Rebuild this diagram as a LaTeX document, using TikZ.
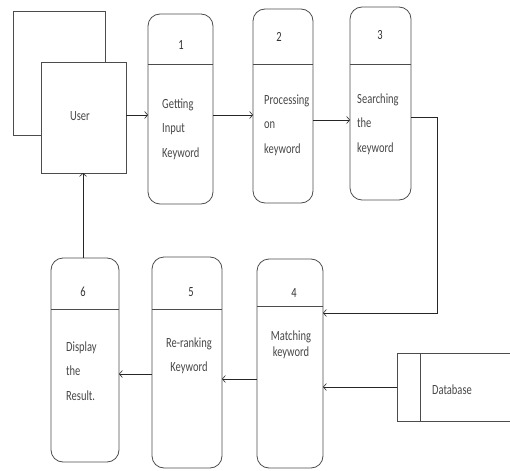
\documentclass[tikz,border=0pt]{standalone}
\usepackage{fontspec}
\setmainfont{Carlito}[FakeStretch=0.75]
\usetikzlibrary{arrows.meta}
\begin{document}
\begin{tikzpicture}[x=1pt,y=-1pt,
  boxline/.style={draw=black!70, line width=0.8pt},
  proc/.style={boxline, rectangle, rounded corners=12pt, inner sep=0pt, outer sep=0pt},
  plain/.style={boxline, rectangle, inner sep=0pt, outer sep=0pt},
  txt/.style={font=\fontsize{14}{24.5}\selectfont, text=black!72, inner sep=0pt},
  num/.style={font=\fontsize{14}{16}\selectfont, text=black!80, inner sep=0pt},
  conn/.style={draw=black!85, line width=0.8pt},
  arr/.style={conn, -{Straight Barb[length=3pt,width=7pt,line width=0.6pt]}}
]
\useasboundingbox (0,0) rectangle (510,470);

% User shadow
\coordinate (s1) at (41,135);
\coordinate (s2) at (13,135);
\coordinate (s3) at (13,11);
\coordinate (s4) at (105,11);
\coordinate (s5) at (105,62);
\draw[boxline] (s1) -- (s2) -- (s3) -- (s4) -- (s5);
% User box
\node[plain, minimum width=85pt, minimum height=111pt] (user) at (83.5,117.5) {};
\node[txt] (usertxt) at (80,116) {User};

% Process 1
\node[proc, minimum width=65pt, minimum height=190pt] (p1) at (180.5,109) {};
\draw[boxline] (p1.west |- 0,64) -- (p1.east |- 0,64);
\node[num] (n1) at (181,45) {1};
\node[txt, anchor=west, align=left] (t1) at (162,129) {Getting\\Input\\Keyword};

% Process 2
\node[proc, minimum width=60pt, minimum height=194pt] (p2) at (283,106) {};
\draw[boxline] (p2.west |- 0,64) -- (p2.east |- 0,64);
\node[num] (n2) at (279,37) {2};
\node[txt, anchor=west, align=left] (t2) at (264,125) {Processing\\on\\keyword};

% Process 3
\node[proc, minimum width=61pt, minimum height=193pt] (p3) at (380.5,103.5) {};
\draw[boxline] (p3.west |- 0,64) -- (p3.east |- 0,64);
\node[num] (n3) at (380,35) {3};
\node[txt, anchor=west, align=left] (t3) at (357,124) {Searching\\the\\keyword};

% Process 4
\node[proc, minimum width=66pt, minimum height=209pt] (p4) at (290,363.5) {};
\draw[boxline] (p4.west |- 0,306) -- (p4.east |- 0,306);
\node[num] (n4) at (294,293) {4};
\node[txt, align=center, font=\fontsize{14}{16}\selectfont] (t4) at (291,344.5) {Matching\\keyword};

% Process 5
\node[proc, minimum width=70pt, minimum height=211pt] (p5) at (187,362.5) {};
\draw[boxline] (p5.west |- 0,309) -- (p5.east |- 0,309);
\node[num] (n5) at (191,292) {5};
\node[txt, align=center] (t5) at (189,356) {Re-ranking\\Keyword};

% Process 6
\node[proc, minimum width=68pt, minimum height=204pt] (p6) at (85,360) {};
\draw[boxline] (p6.west |- 0,309) -- (p6.east |- 0,309);
\node[num] (n6) at (83,292) {6};
\node[txt, anchor=west, align=left] (t6) at (66,371) {Display\\the\\Result.};

% Database (open-ended store)
\node[inner sep=0pt, outer sep=0pt, minimum width=113pt, minimum height=68pt] (db) at (453.5,387) {};
\draw[boxline] (db.north east) -- (db.north west) -- (db.south west) -- (db.south east);
\draw[boxline] ([xshift=23pt]db.north west) -- ([xshift=23pt]db.south west);
\node[txt] (dbtxt) at (452,390) {Database};

% Connectors
\coordinate (c3a) at (437,117);
\coordinate (c3b) at (437,313);
\draw[arr] (user.east |- 0,115) -- (p1.west |- 0,115);
\draw[arr] (p1.east |- 0,115) -- (p2.west |- 0,115);
\draw[arr] (p2.east |- 0,120) -- (p3.west |- 0,120);
\draw[arr] (p3.east |- c3a) -- (c3a) -- (c3b) -- (p4.east |- c3b);
\draw[arr] (db.west) -- (p4.east |- db.west);
\draw[arr] (p4.west |- 0,379) -- (p5.east |- 0,379);
\draw[arr] (p5.west |- 0,374) -- (p6.east |- 0,374);
\draw[arr] (p6.north -| n6) -- (user.south -| n6);
\end{tikzpicture}
\end{document}
